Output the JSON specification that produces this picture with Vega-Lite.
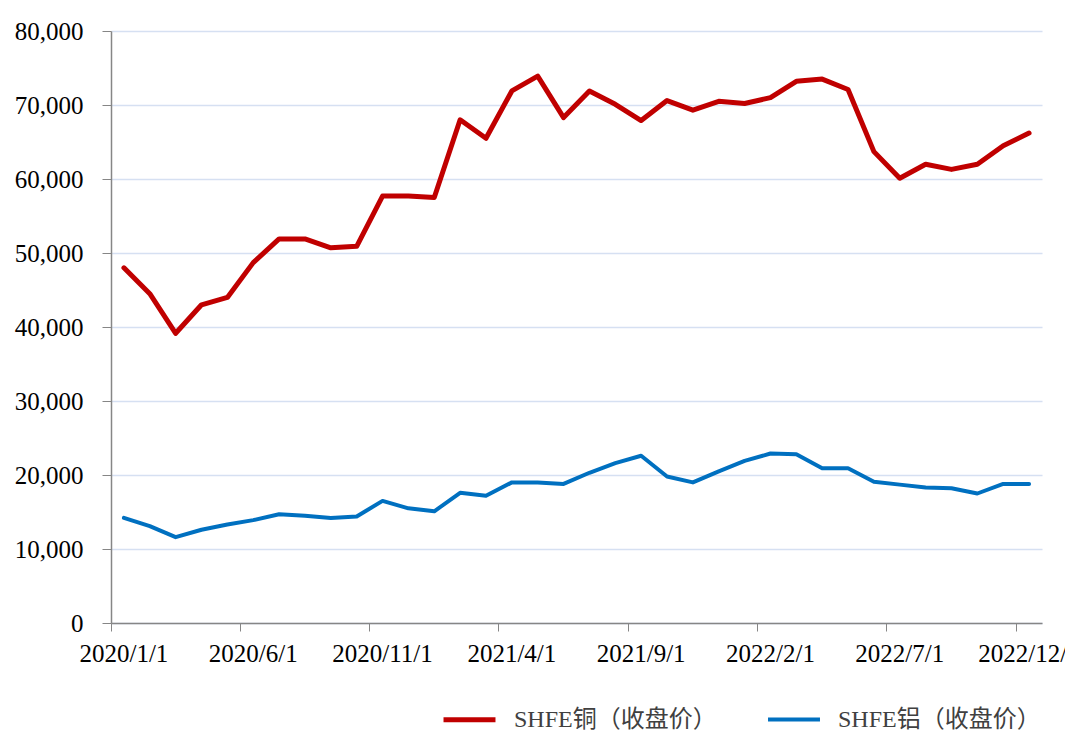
{
  "$schema": "https://vega.github.io/schema/vega-lite/v6.json",
  "width": 931,
  "height": 592,
  "autosize": "none",
  "padding": {"left": 111, "top": 31, "right": 23, "bottom": 128},
  "background": "white",
  "config": {
    "view": {"stroke": null},
    "font": "Liberation Serif"
  },
  "data": {"values": [
    {"date": "2020/1/1", "series": "SHFE铜（收盘价）", "value": 48000},
    {"date": "2020/2/1", "series": "SHFE铜（收盘价）", "value": 44500},
    {"date": "2020/3/1", "series": "SHFE铜（收盘价）", "value": 39150},
    {"date": "2020/4/1", "series": "SHFE铜（收盘价）", "value": 43000},
    {"date": "2020/5/1", "series": "SHFE铜（收盘价）", "value": 44000},
    {"date": "2020/6/1", "series": "SHFE铜（收盘价）", "value": 48700},
    {"date": "2020/7/1", "series": "SHFE铜（收盘价）", "value": 51900},
    {"date": "2020/8/1", "series": "SHFE铜（收盘价）", "value": 51900},
    {"date": "2020/9/1", "series": "SHFE铜（收盘价）", "value": 50700},
    {"date": "2020/10/1", "series": "SHFE铜（收盘价）", "value": 50900},
    {"date": "2020/11/1", "series": "SHFE铜（收盘价）", "value": 57700},
    {"date": "2020/12/1", "series": "SHFE铜（收盘价）", "value": 57700},
    {"date": "2021/1/1", "series": "SHFE铜（收盘价）", "value": 57500},
    {"date": "2021/2/1", "series": "SHFE铜（收盘价）", "value": 68000},
    {"date": "2021/3/1", "series": "SHFE铜（收盘价）", "value": 65500},
    {"date": "2021/4/1", "series": "SHFE铜（收盘价）", "value": 71900},
    {"date": "2021/5/1", "series": "SHFE铜（收盘价）", "value": 73900},
    {"date": "2021/6/1", "series": "SHFE铜（收盘价）", "value": 68300},
    {"date": "2021/7/1", "series": "SHFE铜（收盘价）", "value": 71900},
    {"date": "2021/8/1", "series": "SHFE铜（收盘价）", "value": 70100},
    {"date": "2021/9/1", "series": "SHFE铜（收盘价）", "value": 67900},
    {"date": "2021/10/1", "series": "SHFE铜（收盘价）", "value": 70600},
    {"date": "2021/11/1", "series": "SHFE铜（收盘价）", "value": 69300},
    {"date": "2021/12/1", "series": "SHFE铜（收盘价）", "value": 70500},
    {"date": "2022/1/1", "series": "SHFE铜（收盘价）", "value": 70200},
    {"date": "2022/2/1", "series": "SHFE铜（收盘价）", "value": 71000},
    {"date": "2022/3/1", "series": "SHFE铜（收盘价）", "value": 73200},
    {"date": "2022/4/1", "series": "SHFE铜（收盘价）", "value": 73500},
    {"date": "2022/5/1", "series": "SHFE铜（收盘价）", "value": 72100},
    {"date": "2022/6/1", "series": "SHFE铜（收盘价）", "value": 63700},
    {"date": "2022/7/1", "series": "SHFE铜（收盘价）", "value": 60100},
    {"date": "2022/8/1", "series": "SHFE铜（收盘价）", "value": 62000},
    {"date": "2022/9/1", "series": "SHFE铜（收盘价）", "value": 61300},
    {"date": "2022/10/1", "series": "SHFE铜（收盘价）", "value": 62000},
    {"date": "2022/11/1", "series": "SHFE铜（收盘价）", "value": 64500},
    {"date": "2022/12/1", "series": "SHFE铜（收盘价）", "value": 66200},
    {"date": "2020/1/1", "series": "SHFE铝（收盘价）", "value": 14200},
    {"date": "2020/2/1", "series": "SHFE铝（收盘价）", "value": 13100},
    {"date": "2020/3/1", "series": "SHFE铝（收盘价）", "value": 11600},
    {"date": "2020/4/1", "series": "SHFE铝（收盘价）", "value": 12600},
    {"date": "2020/5/1", "series": "SHFE铝（收盘价）", "value": 13300},
    {"date": "2020/6/1", "series": "SHFE铝（收盘价）", "value": 13900},
    {"date": "2020/7/1", "series": "SHFE铝（收盘价）", "value": 14700},
    {"date": "2020/8/1", "series": "SHFE铝（收盘价）", "value": 14500},
    {"date": "2020/9/1", "series": "SHFE铝（收盘价）", "value": 14200},
    {"date": "2020/10/1", "series": "SHFE铝（收盘价）", "value": 14400},
    {"date": "2020/11/1", "series": "SHFE铝（收盘价）", "value": 16500},
    {"date": "2020/12/1", "series": "SHFE铝（收盘价）", "value": 15500},
    {"date": "2021/1/1", "series": "SHFE铝（收盘价）", "value": 15100},
    {"date": "2021/2/1", "series": "SHFE铝（收盘价）", "value": 17600},
    {"date": "2021/3/1", "series": "SHFE铝（收盘价）", "value": 17200},
    {"date": "2021/4/1", "series": "SHFE铝（收盘价）", "value": 19000},
    {"date": "2021/5/1", "series": "SHFE铝（收盘价）", "value": 19000},
    {"date": "2021/6/1", "series": "SHFE铝（收盘价）", "value": 18800},
    {"date": "2021/7/1", "series": "SHFE铝（收盘价）", "value": 20300},
    {"date": "2021/8/1", "series": "SHFE铝（收盘价）", "value": 21600},
    {"date": "2021/9/1", "series": "SHFE铝（收盘价）", "value": 22600},
    {"date": "2021/10/1", "series": "SHFE铝（收盘价）", "value": 19800},
    {"date": "2021/11/1", "series": "SHFE铝（收盘价）", "value": 19000},
    {"date": "2021/12/1", "series": "SHFE铝（收盘价）", "value": 20500},
    {"date": "2022/1/1", "series": "SHFE铝（收盘价）", "value": 21900},
    {"date": "2022/2/1", "series": "SHFE铝（收盘价）", "value": 22900},
    {"date": "2022/3/1", "series": "SHFE铝（收盘价）", "value": 22800},
    {"date": "2022/4/1", "series": "SHFE铝（收盘价）", "value": 20900},
    {"date": "2022/5/1", "series": "SHFE铝（收盘价）", "value": 20900},
    {"date": "2022/6/1", "series": "SHFE铝（收盘价）", "value": 19100},
    {"date": "2022/7/1", "series": "SHFE铝（收盘价）", "value": 18700},
    {"date": "2022/8/1", "series": "SHFE铝（收盘价）", "value": 18300},
    {"date": "2022/9/1", "series": "SHFE铝（收盘价）", "value": 18200},
    {"date": "2022/10/1", "series": "SHFE铝（收盘价）", "value": 17500},
    {"date": "2022/11/1", "series": "SHFE铝（收盘价）", "value": 18800},
    {"date": "2022/12/1", "series": "SHFE铝（收盘价）", "value": 18800}
  ]},
  "mark": {"type": "line", "strokeJoin": "round", "strokeCap": "round"},
  "encoding": {
    "x": {
      "field": "date",
      "type": "nominal",
      "sort": null,
      "scale": {"type": "band", "paddingInner": 0, "paddingOuter": 0},
      "axis": {
        "title": null,
        "values": ["2020/1/1", "2020/6/1", "2020/11/1", "2021/4/1", "2021/9/1", "2022/2/1", "2022/7/1", "2022/12/1"],
        "bandPosition": 0,
        "labelAngle": 0,
        "labelAlign": "center",
        "labelFont": "Liberation Serif",
        "labelFontSize": 25,
        "labelColor": "#000000",
        "labelPadding": 10,
        "labelOverlap": false,
        "labelBound": false,
        "tickSize": 8,
        "tickColor": "#868686",
        "domainColor": "#868686",
        "domainWidth": 1.5,
        "grid": false
      }
    },
    "y": {
      "field": "value",
      "type": "quantitative",
      "scale": {"domain": [0, 80000], "nice": false},
      "axis": {
        "title": null,
        "values": [0, 10000, 20000, 30000, 40000, 50000, 60000, 70000, 80000],
        "format": ",d",
        "labelFont": "Liberation Serif",
        "labelFontSize": 25,
        "labelColor": "#000000",
        "labelPadding": 19,
        "tickSize": 9,
        "tickColor": "#868686",
        "domainColor": "#868686",
        "domainWidth": 1.5,
        "grid": true,
        "gridColor": "#D6E0F2",
        "gridWidth": 1.5
      }
    },
    "color": {
      "field": "series",
      "type": "nominal",
      "sort": null,
      "scale": {"domain": ["SHFE铜（收盘价）", "SHFE铝（收盘价）"], "range": ["#C00000", "#0070C0"]},
      "legend": {
        "title": null,
        "orient": "none",
        "direction": "horizontal",
        "legendX": 330,
        "legendY": 660,
        "symbolType": "stroke",
        "symbolSize": 2700,
        "symbolStrokeWidth": 5,
        "labelFont": "Liberation Serif, Noto Sans CJK SC",
        "labelFontSize": 24,
        "labelColor": "#404040",
        "labelOffset": 16,
        "columnPadding": 43,
        "labelLimit": 400
      }
    },
    "strokeWidth": {
      "field": "series",
      "type": "nominal",
      "scale": {"domain": ["SHFE铜（收盘价）", "SHFE铝（收盘价）"], "range": [5, 4]},
      "legend": null
    }
  }
}
